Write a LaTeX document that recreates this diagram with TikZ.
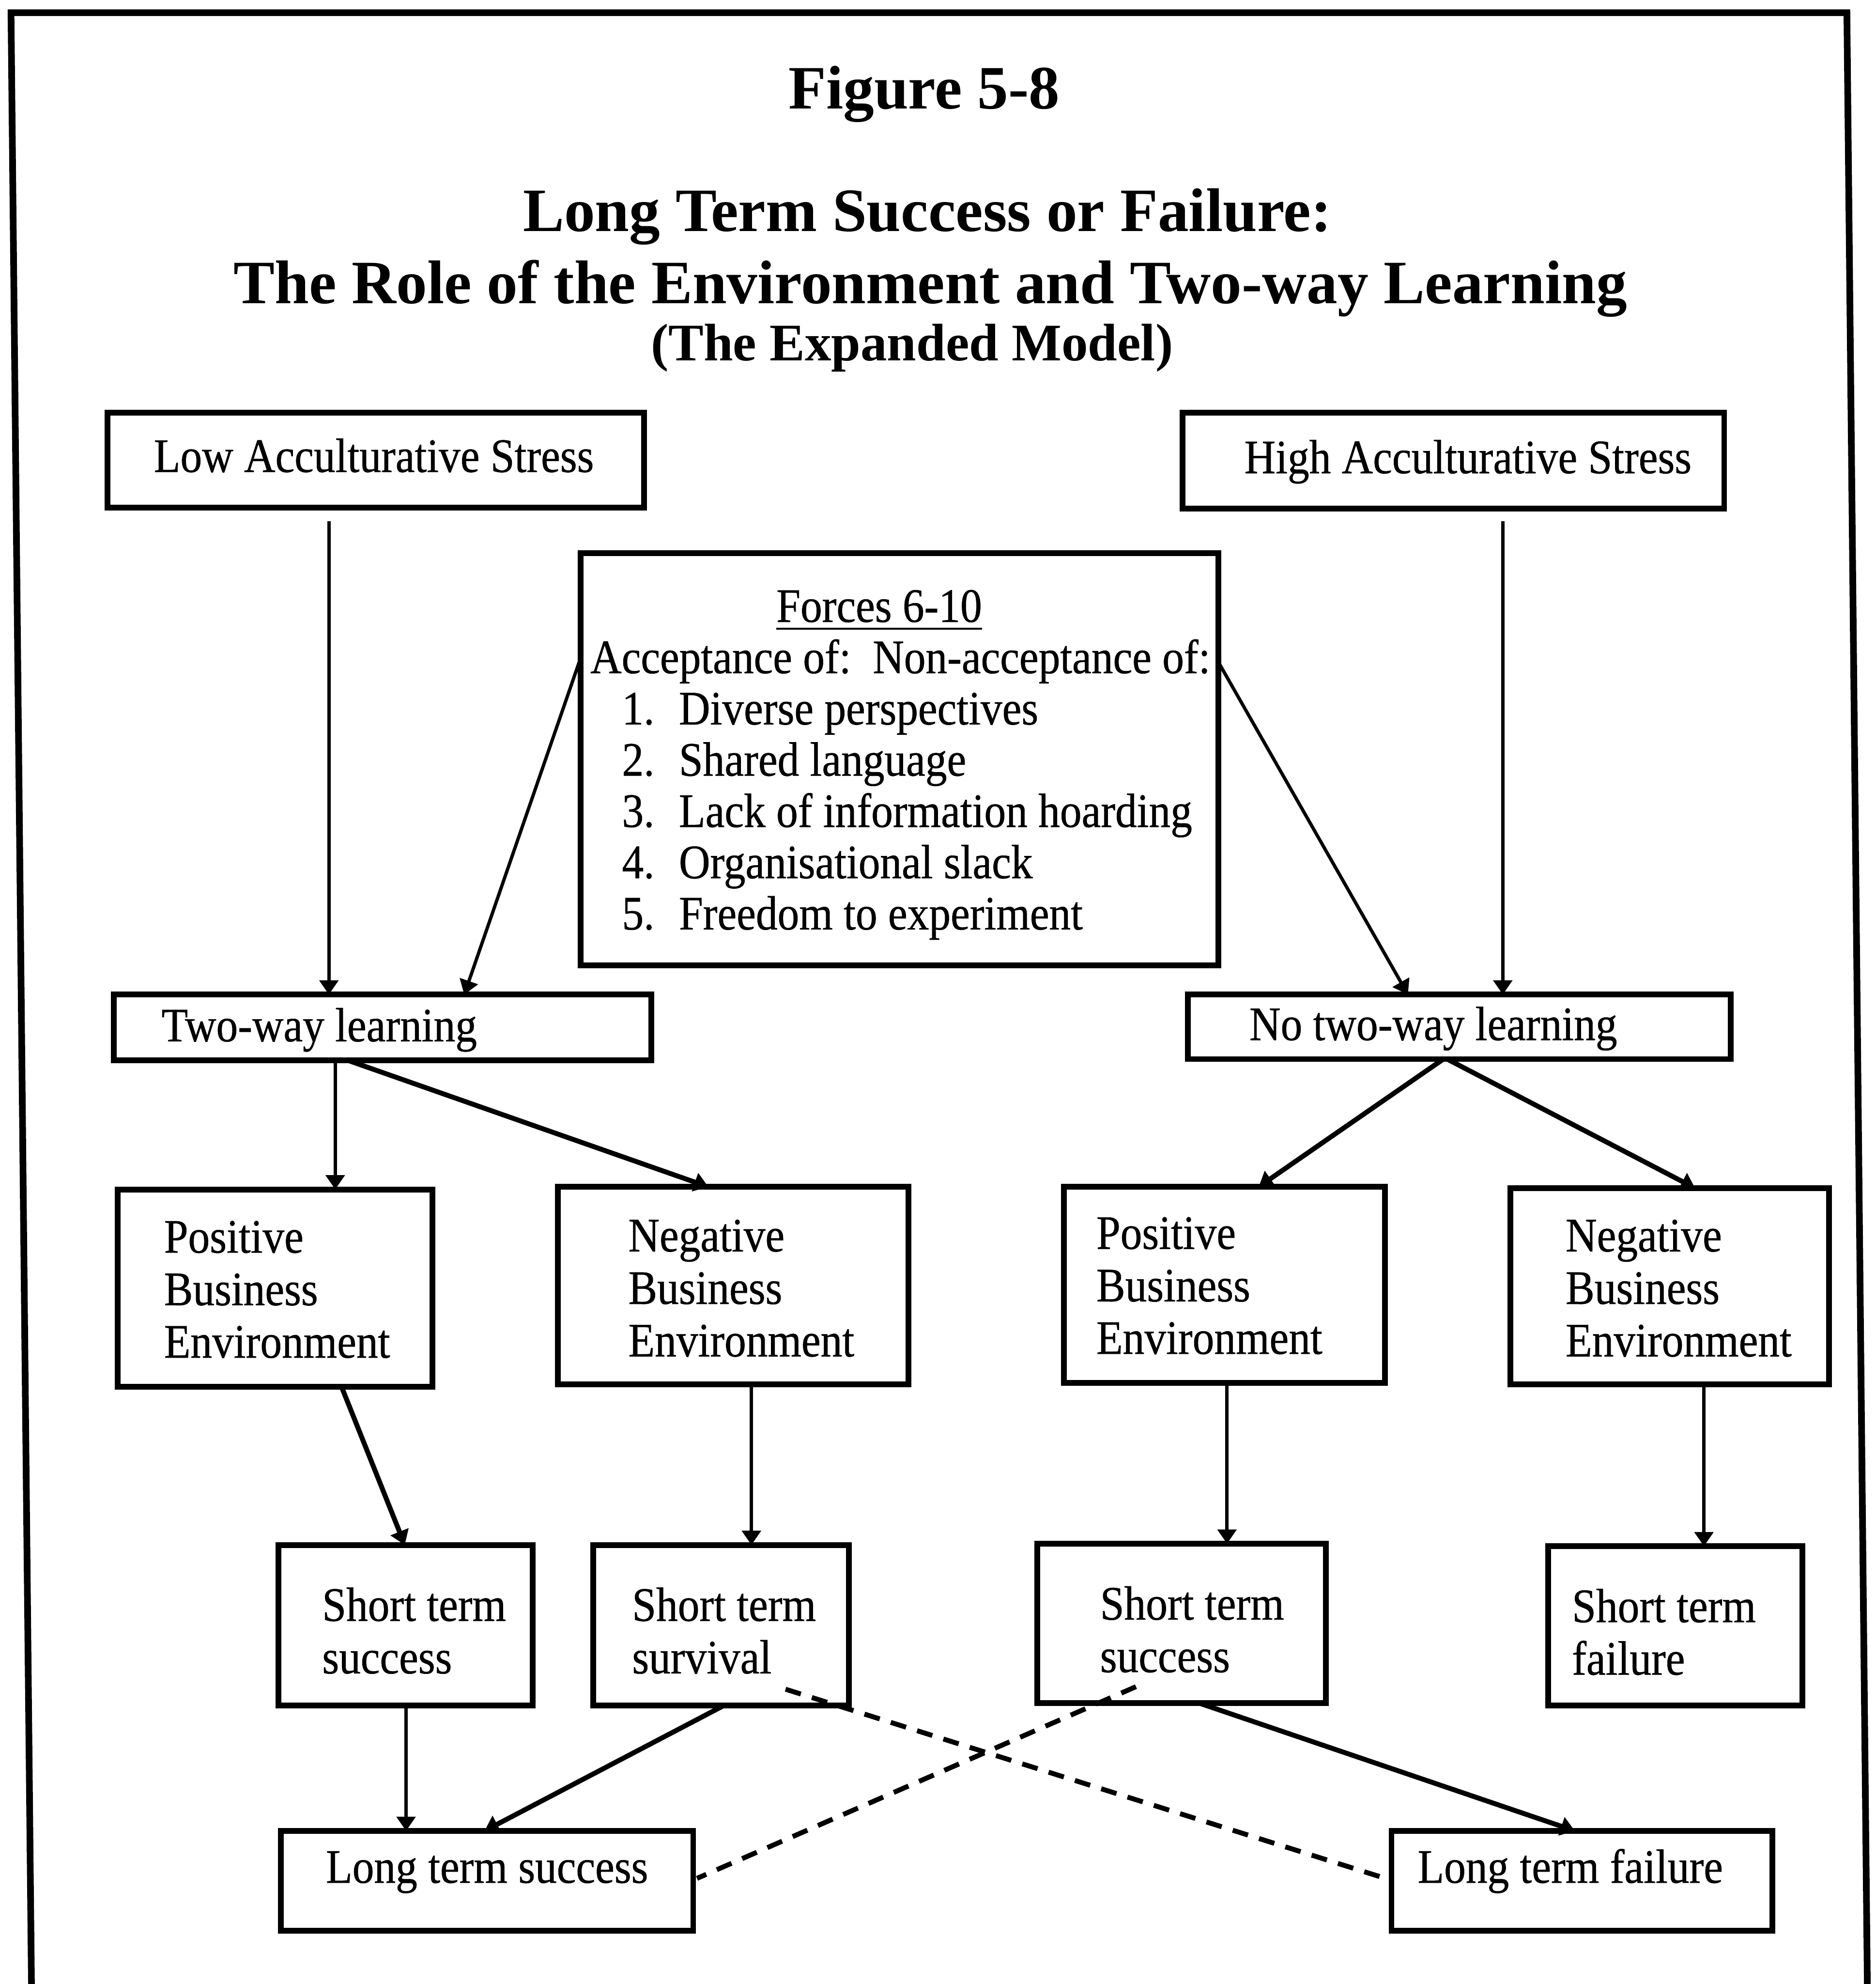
\documentclass[tikz,border=0pt]{standalone}
\usepackage{fontspec}
\setmainfont{Liberation Serif}
\newfontfamily\boxfont[FakeStretch=0.9,FakeBold=0.6]{Liberation Serif}
\usetikzlibrary{arrows.meta,fit,calc}

% several lines of text, aligned on the baseline of the first one
\newcommand{\boxlines}[1]{\begin{tabular}[t]{@{}l@{}}#1\end{tabular}}

\tikzset{
  flowbox/.style={draw, line width=1.3pt, inner sep=0pt, outer sep=0pt},
  boxtext/.style={inner sep=0pt, anchor=base west,
    font=\boxfont\fontsize{10.81}{11.8}\selectfont},
  headline/.style={inner sep=0pt, anchor=base,
    font=\bfseries\fontsize{13.86}{16}\selectfont},
  arrowthin/.style={line width=0.75pt, -{Triangle[length=3.2pt,width=4.2pt]}},
  arrowthick/.style={arrowthin, line width=1.1pt},
  dashedline/.style={line width=1.1pt, dash pattern=on 3.6pt off 2.6pt},
}

\begin{document}
\begin{tikzpicture}[x=0.01cm, y=-0.01cm, line join=miter]
\useasboundingbox (0,0) rectangle (1483,1568);

% outer frame (open at the foot of the page)
\draw[line width=1.5pt] (25.1,1590) -- (8.7,10) -- (1460,10) -- (1476.4,1590);

% headings
\node[headline] (fig) at (730.5,86) {Figure 5-8};
\node[headline] (title1) at (733,182.6) {Long Term Success or Failure:};
\node[headline] (title2) at (735.5,240) {The Role of the Environment and Two-way Learning};
\node[headline, font=\bfseries\fontsize{11.87}{14}\selectfont] (title3) at (721,285) {(The Expanded Model)};

% boxes
\node[flowbox, fit={(85,326) (509,401)}] (low) {};
\node[flowbox, fit={(935,326) (1363,402)}] (high) {};
\node[flowbox, fit={(459,437) (963,763)}] (forces) {};
\node[flowbox, fit={(90,786) (515,838)}] (two) {};
\node[flowbox, fit={(939,786) (1368,837)}] (notwo) {};
\node[flowbox, fit={(93,940) (342,1096)}] (posL) {};
\node[flowbox, fit={(441,938) (718,1094)}] (negL) {};
\node[flowbox, fit={(841,938) (1095,1093)}] (posR) {};
\node[flowbox, fit={(1194,939) (1446,1094)}] (negR) {};
\node[flowbox, fit={(220,1221) (421,1348)}] (stsL) {};
\node[flowbox, fit={(469,1221) (671,1348)}] (surv) {};
\node[flowbox, fit={(820,1220) (1048,1346)}] (stsR) {};
\node[flowbox, fit={(1224,1222) (1425,1348)}] (stf) {};
\node[flowbox, fit={(222,1447) (548,1526)}] (lts) {};
\node[flowbox, fit={(1100,1447) (1401,1526)}] (ltf) {};

% box texts
\node[boxtext] (low-t) at (121,373) {Low Acculturative Stress};
\node[boxtext] (high-t) at (983,374) {High Acculturative Stress};
\node[boxtext, font=\boxfont\fontsize{10.81}{11.52}\selectfont] (forces-t) at (466,491.5) {\boxlines{%
  \hspace*{1.47cm}\underline{Forces 6-10}\\
  Acceptance of:\ \ Non-acceptance of:\\
  \hspace*{0.25cm}\makebox[0.45cm][l]{1.}Diverse perspectives\\
  \hspace*{0.25cm}\makebox[0.45cm][l]{2.}Shared language\\
  \hspace*{0.25cm}\makebox[0.45cm][l]{3.}Lack of information hoarding\\
  \hspace*{0.25cm}\makebox[0.45cm][l]{4.}Organisational slack\\
  \hspace*{0.25cm}\makebox[0.45cm][l]{5.}Freedom to experiment}};
\node[boxtext] (two-t) at (127,823) {Two-way learning};
\node[boxtext] (notwo-t) at (987,822) {No two-way learning};
\node[boxtext] (posL-t) at (129,990) {\boxlines{Positive\\Business\\Environment}};
\node[boxtext] (negL-t) at (496,989) {\boxlines{Negative\\Business\\Environment}};
\node[boxtext] (posR-t) at (866,987) {\boxlines{Positive\\Business\\Environment}};
\node[boxtext] (negR-t) at (1237,989) {\boxlines{Negative\\Business\\Environment}};
\node[boxtext] (stsL-t) at (254,1281) {\boxlines{Short term\\success}};
\node[boxtext] (surv-t) at (499,1281) {\boxlines{Short term\\survival}};
\node[boxtext] (stsR-t) at (869,1280) {\boxlines{Short term\\success}};
\node[boxtext] (stf-t) at (1242,1282) {\boxlines{Short term\\failure}};
\node[boxtext] (lts-t) at (257,1488) {Long term success};
\node[boxtext] (ltf-t) at (1120,1488) {Long term failure};

% connectors
\draw[arrowthin] ($(low.south west)+(175,11)$) -- ($(two.north west)+(170,0)$);
\draw[arrowthin] ($(forces.north west)+(0,83)$) -- ($(two.north west)+(277,0)$);
\draw[arrowthin] ($(forces.north east)+(0,86)$) -- ($(notwo.north west)+(174,0)$);
\draw[arrowthin] ($(high.south west)+(253,10)$) -- ($(notwo.north west)+(249,0)$);

\draw[arrowthin] ($(two.south west)+(175,0)$) -- ($(posL.north west)+(172,0)$);
\draw[arrowthick] ($(two.south west)+(185,0)$) -- ($(negL.north west)+(119,0)$);
\draw[arrowthick] ($(notwo.south west)+(202,0)$) -- ($(posR.north west)+(154,0)$);
\draw[arrowthick] ($(notwo.south west)+(205,0)$) -- ($(negR.north west)+(146,0)$);

\draw[arrowthick] ($(posL.south west)+(177,0)$) -- ($(stsL.north west)+(100,0)$);
\draw[arrowthin] ($(negL.south west)+(153,0)$) -- ($(surv.north west)+(125,0)$);
\draw[arrowthin] ($(posR.south west)+(129,0)$) -- ($(stsR.north west)+(150,0)$);
\draw[arrowthin] ($(negR.south west)+(153,0)$) -- ($(stf.north west)+(123,0)$);

\draw[arrowthin] ($(stsL.south west)+(101,0)$) -- ($(lts.north west)+(99,0)$);
\draw[arrowthick] ($(surv.south west)+(103,0)$) -- ($(lts.north west)+(161,0)$);
\draw[arrowthick] ($(stsR.south west)+(128,0)$) -- ($(ltf.north west)+(145,0)$);

\draw[dashedline] ($(surv.south west)+(152,-13)$) -- ($(ltf.west)+(-8,-3)$);
\draw[dashedline] ($(stsR.south west)+(78,-13)$) -- ($(lts.east)+(3,-2)$);
\end{tikzpicture}
\end{document}
